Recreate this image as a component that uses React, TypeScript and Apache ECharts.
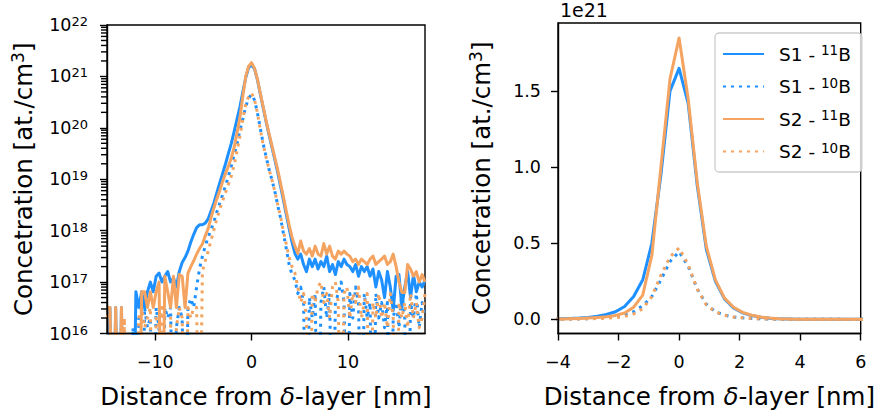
import React, { useEffect, useRef } from 'react';
import * as echarts from 'echarts';

// Distance from the delta-layer [nm]
const xNm = [
  -15, -14.7, -14.4, -14.1, -13.8, -13.5, -13.2, -12.9, -12.6, -12.3, -12,
  -11.7, -11.4, -11.1, -10.8, -10.5, -10.2, -9.9, -9.6, -9.3, -9, -8.7,
  -8.4, -8.1, -7.8, -7.5, -7.2, -6.9, -6.6, -6.3, -6, -5.7, -5.4,
  -5.1, -4.8, -4.5, -4.2, -3.9, -3.6, -3.3, -3, -2.7, -2.4, -2.1,
  -1.8, -1.5, -1.2, -0.9, -0.6, -0.3, 0, 0.3, 0.6, 0.9, 1.2,
  1.5, 1.8, 2.1, 2.4, 2.7, 3, 3.3, 3.6, 3.9, 4.2, 4.5,
  4.8, 5.1, 5.4, 5.7, 6, 6.3, 6.6, 6.9, 7.2, 7.5, 7.8,
  8.1, 8.4, 8.7, 9, 9.3, 9.6, 9.9, 10.2, 10.5, 10.8, 11.1,
  11.4, 11.7, 12, 12.3, 12.6, 12.9, 13.2, 13.5, 13.8, 14.1, 14.4,
  14.7, 15, 15.3, 15.6, 15.9, 16.2, 16.5, 16.8, 17.1, 17.4, 17.7, 18,
];

// Concentration [at./cm3]
const s1B11 = [
  0, 3.2e16, 0, 3.2e16, 0, 3.2e16, 0, 0, 0, 0, 6.5e16,
  3.2e16, 6.5e16, 3.2e16, 6.5e16, 1e17, 6.5e16, 1.3e17, 1.5e17, 1e17, 1.3e17, 1.6e17,
  1e17, 1.2e17, 8e16, 1.6e17, 2.4e17, 3e17, 4e17, 6e17, 8.5e17, 1.15e18, 1.3e18,
  1.3e18, 1.4e18, 1.7e18, 2.4e18, 3.5e18, 5.5e18, 8.5e18, 1.3e19, 2e19, 3.2e19, 5e19,
  8.5e19, 1.5e20, 2.6e20, 5e20, 9.5e20, 1.5e21, 1.65e21, 1.42e21, 8.8e20, 4.6e20, 2.5e20,
  1.35e20, 7.5e19, 4.3e19, 2.5e19, 1.4e19, 7.5e18, 4e18, 2.1e18, 1.1e18, 6e17, 3.6e17,
  2.8e17, 3.5e17, 2.2e17, 1.6e17, 2.8e17, 2e17, 2.8e17, 1.8e17, 2.5e17, 2e17, 3.2e17,
  1.6e17, 2.2e17, 1.4e17, 2.5e17, 2e17, 2.8e17, 2.2e17, 2e17, 1.6e17, 2.2e17, 1.3e17,
  2e17, 1.6e17, 2e17, 1.3e17, 1.8e17, 8e16, 1.6e17, 1.1e17, 5e16, 1.6e17, 8e16,
  2.8e16, 1.3e17, 1.4e17, 3.2e16, 8e16, 1.6e17, 5e16, 1.4e17, 6.5e16, 1e17, 8e16, 1.1e17,
];

const s1B10 = [
  0, 0, 0, 0, 0, 0, 0, 0, 0, 1.3e16, 0,
  2e16, 0, 3.2e16, 1.3e16, 2e16, 0, 3.2e16, 1.3e16, 0, 3.2e16, 2e16,
  3.2e16, 0, 1.3e16, 3.2e16, 2e16, 0, 3.2e16, 4.8e16, 3.2e16, 8e16, 1.8e17,
  3.2e17, 5e17, 7.5e17, 1.05e18, 1.5e18, 2.3e18, 3.4e18, 5e18, 7.5e18, 1.15e19, 1.8e19,
  3e19, 5e19, 9e19, 1.5e20, 2.6e20, 3.8e20, 4.45e20, 3.5e20, 2e20, 1e20, 5e19,
  2.8e19, 1.6e19, 1e19, 6e18, 3.2e18, 1.8e18, 9e17, 4.5e17, 2.2e17, 1.4e17, 1.1e17,
  6e16, 8e16, 4e16, 0, 5e16, 2e16, 6e16, 0, 4e16, 8e16, 2e16,
  6e16, 0, 4e16, 6e16, 1e17, 4e16, 0, 6e16, 2e16, 8e16, 4e16,
  0, 6e16, 2e16, 4e16, 0, 6e16, 2e16, 4e16, 1.3e16, 4e16, 0,
  2e16, 4e16, 1.3e16, 6e16, 2e16, 0, 4e16, 2e16, 6e16, 1.3e16, 4e16, 2e16,
];

const s2B11 = [
  3.2e16, 3.2e16, 0, 3.2e16, 0, 3.2e16, 0, 0, 0, 0, 0,
  0, 6.5e16, 6.5e16, 3.2e16, 6.5e16, 3.2e16, 6.5e16, 1e17, 0, 1.3e17, 6.5e16,
  3.2e16, 1.3e17, 3.2e16, 1.4e17, 1.3e17, 3.2e16, 1.5e17, 2e17, 2.6e17, 3.5e17, 4.5e17,
  5.5e17, 8e17, 1.1e18, 1.8e18, 2.8e18, 4.2e18, 6e18, 9e18, 1.3e19, 1.8e19, 2.6e19,
  4.2e19, 8e19, 1.6e20, 4.2e20, 1e21, 1.58e21, 1.85e21, 1.45e21, 9e20, 4.8e20, 2.6e20,
  1.4e20, 8e19, 4.6e19, 2.7e19, 1.55e19, 8.5e18, 4.6e18, 2.4e18, 1.3e18, 7.5e17, 5e17,
  3.6e17, 6.3e17, 4e17, 3.5e17, 4.5e17, 3.2e17, 5e17, 3.5e17, 3.2e17, 5.6e17, 3.5e17,
  5e17, 3.2e17, 2.8e17, 4e17, 3.5e17, 4e17, 3.5e17, 3.2e17, 2.5e17, 2.8e17, 2.2e17,
  2.8e17, 2.5e17, 2.2e17, 2.8e17, 3.2e17, 2.2e17, 2.5e17, 2.8e17, 3.2e17, 2.2e17, 2.5e17,
  3.5e17, 2e17, 1e17, 6.3e16, 6.3e16, 2.2e17, 1.8e17, 1.3e17, 1.6e17, 1e17, 1.4e17, 1e17,
];

const s2B10 = [
  2e16, 3.2e16, 0, 1.3e16, 0, 0, 2e16, 0, 0, 0, 0,
  2e16, 3.2e16, 1.3e16, 2e16, 3.2e16, 0, 2e16, 1.3e16, 3.2e16, 0, 0,
  2e16, 0, 1.3e16, 3.2e16, 2e16, 0, 3.2e16, 2e16, 3.2e16, 3.2e16, 0,
  1.6e17, 2.6e17, 4e17, 6.5e17, 1.05e18, 1.7e18, 2.6e18, 3.8e18, 5.5e18, 8e18, 1.15e19,
  1.9e19, 3.6e19, 7e19, 1.5e20, 2.9e20, 4.1e20, 4.7e20, 3.6e20, 2e20, 9.5e19, 4.8e19,
  2.7e19, 1.6e19, 1e19, 6e18, 3.3e18, 1.9e18, 1e18, 5.5e17, 3e17, 2e17, 1.5e17,
  8e16, 4e16, 6e16, 2e16, 0, 6e16, 4e16, 8e16, 1e17, 4e16, 6e16,
  2e16, 8e16, 1e17, 4e16, 0, 6e16, 8e16, 2e16, 6e16, 4e16, 8e16,
  2e16, 4e16, 6e16, 0, 4e16, 2e16, 6e16, 2e16, 4e16, 1.3e16, 6e16,
  2e16, 0, 4e16, 2e16, 4e16, 1.3e16, 6e16, 2e16, 4e16, 1.3e16, 2e16, 6e16,
];

const seriesNames = ['S1 - 11B', 'S1 - 10B', 'S2 - 11B', 'S2 - 10B'];
const logMajorTicks = [1e16, 1e17, 1e18, 1e19, 1e20, 1e21, 1e22];
const leftXTicks = [-10, 0, 10];
const rightYTicks = [0, 5e20, 1e21, 1.5e21];

const FONT = 'DejaVu Sans';
const BLUE = '#1E90FF';
const ORANGE = '#F4A460';

const defs = [
  { name: seriesNames[0], data: s1B11, color: BLUE, dotted: false },
  { name: seriesNames[1], data: s1B10, color: BLUE, dotted: true },
  { name: seriesNames[2], data: s2B11, color: ORANGE, dotted: false },
  { name: seriesNames[3], data: s2B10, color: ORANGE, dotted: true },
];

// positions of the log-axis minor ticks (2..9 x 10^n)
const minorLogTicks: number[] = [];
for (let e = 16; e < 22; e++) for (let m = 2; m <= 9; m++) minorLogTicks.push(m * Math.pow(10, e));

const minus = (v: number) => (v < 0 ? '\u2212' + Math.abs(v) : String(v));

const tickLabel = { fontFamily: FONT, fontSize: 17.5, color: '#000' };
const axisLineStyle = { show: true, onZero: false, lineStyle: { color: '#000', width: 1.4 } };
const tickStyle = { show: true, inside: false, length: 7, lineStyle: { color: '#000', width: 1.4 } };
const nameStyle = {
  fontFamily: FONT,
  fontSize: 24.5,
  color: '#000',
  rich: {
    n: { fontFamily: FONT, fontSize: 24.5, color: '#000', lineHeight: 28 },
    i: { fontFamily: FONT, fontSize: 24.5, color: '#000', fontStyle: 'italic', lineHeight: 28 },
    s: { fontFamily: FONT, fontSize: 17, color: '#000', lineHeight: 16, verticalAlign: 'top' },
  },
};
const xName = '{n|Distance from }{i|\u03b4}{n|-layer [nm]}';
const yName = '{n|Concetration [at./cm}{s|3}{n|]}';

const offsetText = {
  type: 'text',
  x: 560,
  y: 0,
  style: { text: '1e21', font: '19px "DejaVu Sans"', fill: '#000', verticalAlign: 'top' },
};

function buildOption() {
  const series: any[] = [];
  defs.forEach((d) => {
    const lineStyle = {
      color: d.color,
      width: 3,
      type: d.dotted ? [3, 5] : 'solid',
      cap: 'butt',
      join: 'round',
    };
    series.push({
      type: 'line',
      name: d.name,
      xAxisIndex: 0,
      yAxisIndex: 0,
      symbol: 'none',
      clip: true,
      data: xNm.map((x, i) => [x, d.data[i] > 0 ? d.data[i] : 1e13]),
      lineStyle,
      itemStyle: { color: d.color },
    });
    series.push({
      type: 'line',
      name: d.name,
      xAxisIndex: 1,
      yAxisIndex: 1,
      symbol: 'none',
      clip: true,
      data: xNm.map((x, i) => [x, d.data[i]]),
      lineStyle,
      itemStyle: { color: d.color },
    });
  });

  return {
    animation: false,
    backgroundColor: '#fff',
    grid: [
      { left: 107, top: 25, width: 318, height: 318, show: true, borderColor: '#000', borderWidth: 1.4 },
      { left: 558, top: 23, width: 319, height: 318, show: true, borderColor: '#000', borderWidth: 1.4 },
    ],
    xAxis: [
      {
        type: 'value',
        gridIndex: 0,
        min: -15,
        max: 18,
        z: 5,
        axisLine: axisLineStyle,
        axisTick: { ...tickStyle, customValues: leftXTicks },
        axisLabel: { ...tickLabel, margin: 19, customValues: leftXTicks, formatter: minus },
        splitLine: { show: false },
        name: xName,
        nameLocation: 'middle',
        nameGap: 49,
        nameTextStyle: nameStyle,
      },
      {
        type: 'value',
        gridIndex: 1,
        min: -4,
        max: 6,
        interval: 2,
        z: 5,
        axisLine: axisLineStyle,
        axisTick: tickStyle,
        axisLabel: { ...tickLabel, margin: 19, formatter: minus, showMaxLabel: true, showMinLabel: true },
        splitLine: { show: false },
        name: xName,
        nameLocation: 'middle',
        nameGap: 49,
        nameTextStyle: nameStyle,
      },
    ],
    yAxis: [
      {
        type: 'log',
        logBase: 10,
        gridIndex: 0,
        min: 1e16,
        max: 1e22,
        z: 5,
        axisLine: axisLineStyle,
        axisTick: { ...tickStyle, customValues: logMajorTicks },
        axisLabel: {
          ...tickLabel,
          margin: 19,
          customValues: logMajorTicks,
          formatter: (v: number) => '{b|10}{s|' + Math.round(Math.log10(v)) + '}',
          rich: {
            b: { fontFamily: FONT, fontSize: 17.5, color: '#000', lineHeight: 20 },
            s: { fontFamily: FONT, fontSize: 13, color: '#000', lineHeight: 12, verticalAlign: 'top' },
          },
        },
        splitLine: { show: false },
        name: yName,
        nameLocation: 'middle',
        nameGap: 70,
        nameTextStyle: nameStyle,
      },
      {
        type: 'value',
        gridIndex: 1,
        min: -9.28e19,
        max: 1.948e21,
        z: 5,
        axisLine: axisLineStyle,
        axisTick: { ...tickStyle, customValues: rightYTicks },
        axisLabel: {
          ...tickLabel,
          margin: 17,
          customValues: rightYTicks,
          formatter: (v: number) => (v / 1e21).toFixed(1),
        },
        splitLine: { show: false },
        name: yName,
        nameLocation: 'middle',
        nameGap: 63,
        nameTextStyle: nameStyle,
      },
    ],
    legend: {
      data: seriesNames,
      orient: 'vertical',
      left: 715,
      top: 33,
      itemWidth: 41,
      itemHeight: 12,
      itemGap: 12,
      padding: [10, 11, 11, 7],
      backgroundColor: 'rgba(255,255,255,0.8)',
      borderColor: '#cccccc',
      borderWidth: 1.3,
      borderRadius: 4,
      selectedMode: false,
      itemStyle: { opacity: 0 },
      formatter: (name: string) => {
        const m = name.match(/^(S\d - )(\d+)(B)$/);
        return m ? '{n|' + m[1] + '}{s|' + m[2] + '}{n|' + m[3] + '}' : name;
      },
      textStyle: {
        fontFamily: FONT,
        fontSize: 18.5,
        color: '#000',
        padding: [0, 0, 0, 10],
        rich: {
          n: { fontFamily: FONT, fontSize: 18.5, color: '#000', lineHeight: 22 },
          s: { fontFamily: FONT, fontSize: 13.5, color: '#000', lineHeight: 13, verticalAlign: 'top' },
        },
      },
    },
    graphic: [offsetText],
    series,
  };
}

export default function App() {
  const ref = useRef<HTMLDivElement>(null);
  useEffect(() => {
    if (!ref.current) return;
    const chart = echarts.init(ref.current, null, { renderer: 'svg' });
    chart.setOption(buildOption() as any);
    // minor ticks of the log axis, placed through the axis scale
    const minorTickEls = minorLogTicks.map((v) => {
      const p = chart.convertToPixel({ xAxisIndex: 0, yAxisIndex: 0 }, [-15, v]) as number[];
      return {
        type: 'line',
        z: 10,
        shape: { x1: p[0] - 6, y1: p[1], x2: p[0], y2: p[1] },
        style: { stroke: '#000', lineWidth: 1.4 },
      };
    });
    chart.setOption({ graphic: [offsetText, ...minorTickEls] } as any);
    return () => chart.dispose();
  }, []);
  return (
    <div
      ref={ref}
      style={{ position: 'fixed', left: 0, top: 0, width: 878, height: 414, background: '#fff' }}
    />
  );
}
